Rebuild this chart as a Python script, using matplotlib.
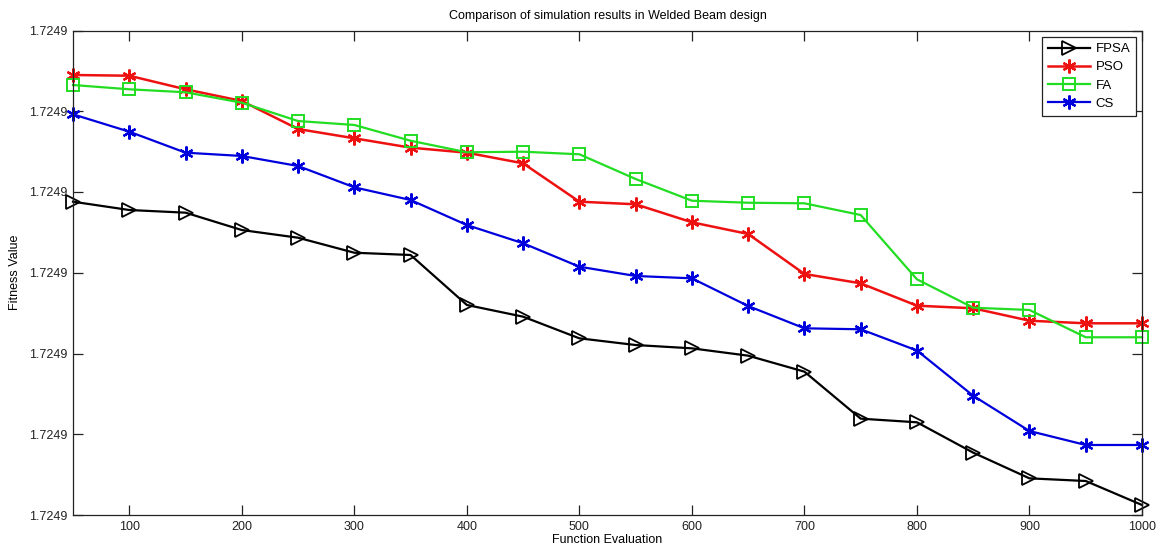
import matplotlib
matplotlib.use("Agg")
import matplotlib.pyplot as plt
from matplotlib.ticker import FormatStrFormatter

plt.rcParams['font.family'] = ['Liberation Sans', 'DejaVu Sans']

evaluations = [50, 100, 150, 200, 250, 300, 350, 400, 450, 500,
               550, 600, 650, 700, 750, 800, 850, 900, 950, 1000]

fpsa = [1.72489880, 1.72489777, 1.72489744, 1.72489529, 1.72489434,
        1.72489248, 1.72489220, 1.72488601, 1.72488456, 1.72488188,
        1.72488105, 1.72488064, 1.72487973, 1.72487775, 1.72487193,
        1.72487148, 1.72486772, 1.72486454, 1.72486421, 1.72486124]

pso = [1.72491449, 1.72491440, 1.72491272, 1.72491127, 1.72490780,
       1.72490665, 1.72490549, 1.72490487, 1.72490355, 1.72489880,
       1.72489848, 1.72489625, 1.72489480, 1.72488985, 1.72488869,
       1.72488592, 1.72488560, 1.72488406, 1.72488374, 1.72488374]

fa = [1.72491325, 1.72491272, 1.72491235, 1.72491106, 1.72490879,
      1.72490830, 1.72490635, 1.72490492, 1.72490499, 1.72490467,
      1.72490161, 1.72489892, 1.72489867, 1.72489860, 1.72489715,
      1.72488919, 1.72488567, 1.72488539, 1.72488201, 1.72488201]

cs = [1.72490962, 1.72490747, 1.72490487, 1.72490446, 1.72490322,
      1.72490058, 1.72489901, 1.72489591, 1.72489365, 1.72489075,
      1.72488960, 1.72488931, 1.72488588, 1.72488312, 1.72488300,
      1.72488037, 1.72487477, 1.72487040, 1.72486867, 1.72486867]

y_ticks = [1.72486, 1.72487, 1.72488, 1.72489, 1.72490, 1.72491, 1.72492]
x_ticks = [100, 200, 300, 400, 500, 600, 700, 800, 900, 1000]

fig = plt.figure(figsize=(11.58, 5.48), dpi=100)
ax = fig.add_axes([73/1158, 1 - 515/548, (1142 - 73)/1158, (515 - 30.5)/548])

asterisk = (6, 2, 0)
ax.plot(evaluations, fpsa, color='black', lw=1.6, marker='>', ms=10,
        mfc='none', mec='black', mew=1.3, label='FPSA', clip_on=False)
ax.plot(evaluations, pso, color='#ee1111', lw=1.8, marker=asterisk, ms=10,
        mec='#ee1111', mew=1.6, label='PSO', clip_on=False)
ax.plot(evaluations, fa, color='#22dd22', lw=1.6, marker='s', ms=8,
        mfc='none', mec='#22dd22', mew=1.4, label='FA', clip_on=False)
ax.plot(evaluations, cs, color='#0000dd', lw=1.6, marker=asterisk, ms=10,
        mec='#0000dd', mew=1.6, label='CS', clip_on=False)

ax.set_xlim(50, 1000)
ax.set_ylim(1.72486, 1.72492)
ax.set_xticks(x_ticks)
ax.set_yticks(y_ticks)
ax.yaxis.set_major_formatter(FormatStrFormatter('%.4f'))
ax.tick_params(direction='in', length=7, width=0.9, top=True, right=True,
               labelsize=9, colors='#222222', pad=4)
for s in ax.spines.values():
    s.set_linewidth(0.9)
    s.set_color('#222222')

ax.set_title('Comparison of simulation results in Welded Beam design', fontsize=9, pad=8)
ax.set_xlabel('Function Evaluation', fontsize=9, labelpad=1)
ax.set_ylabel('Fitness Value', fontsize=9, labelpad=6)

leg = ax.legend(loc='upper right', bbox_to_anchor=(0.9945, 0.9866), borderaxespad=0,
                fontsize=9.5, handlelength=3.2, handletextpad=0.4, labelspacing=0.45,
                borderpad=0.45, fancybox=False, framealpha=1, edgecolor='#222222')
leg.get_frame().set_linewidth(0.9)
leg.set_zorder(5)

fig.savefig('out.png', dpi=100)
